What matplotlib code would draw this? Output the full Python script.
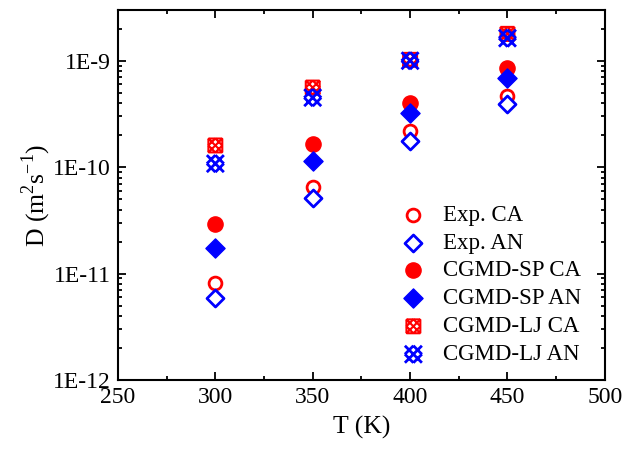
import math
import matplotlib
matplotlib.use("Agg")
import matplotlib.pyplot as plt
from matplotlib.path import Path
from matplotlib.ticker import LogLocator, NullFormatter, FixedLocator, FuncFormatter

plt.rcParams['font.family'] = ['Liberation Serif', 'DejaVu Serif']
plt.rcParams['mathtext.fontset'] = 'custom'
plt.rcParams['mathtext.rm'] = 'Liberation Serif'

T = [300, 350, 400, 450]
exp_ca = [8.1e-12, 6.45e-11, 2.2e-10, 4.7e-10]
exp_an = [5.9e-12, 5.1e-11, 1.78e-10, 3.95e-10]
sp_ca = [2.9e-11, 1.66e-10, 4.0e-10, 8.6e-10]
sp_an = [1.73e-11, 1.15e-10, 3.25e-10, 6.9e-10]
lj_ca = [1.6e-10, 5.6e-10, 1.02e-9, 1.79e-9]
lj_an = [1.08e-10, 4.5e-10, 1.0e-9, 1.63e-9]
y_major = [1e-12, 1e-11, 1e-10, 1e-9]

red = '#ff0000'
blue = '#0000ff'


def segs_path(segs):
    verts, codes = [], []
    for (a, b) in segs:
        verts += [a, b]
        codes += [Path.MOVETO, Path.LINETO]
    return Path(verts, codes)


# square with inner cross-hatch (CA)
sq = [((-1, -1), (1, -1)), ((1, -1), (1, 1)), ((1, 1), (-1, 1)), ((-1, 1), (-1, -1)),
      ((-1, -1), (1, 1)), ((-1, 1), (1, -1)),
      ((-1, 0), (0, 1)), ((0, 1), (1, 0)), ((1, 0), (0, -1)), ((0, -1), (-1, 0))]
m_ljca = segs_path(sq)
# lattice of crossing diagonals (AN)
lat = []
for c in (-1.0, 0.0, 1.0):
    lat.append(((max(-1, c - 1), c - max(-1, c - 1)), (min(1, c + 1), c - min(1, c + 1))))
    lat.append(((max(-1, c - 1), max(-1, c - 1) - c), (min(1, c + 1), min(1, c + 1) - c)))
m_ljan = segs_path(lat)

fig = plt.figure(figsize=(6.36, 4.53), dpi=100)
ax = fig.add_axes([0.1855, 0.161, 0.7655, 0.817])

ax.scatter(T, exp_ca, s=85, marker='o', facecolors='white', edgecolors=red, linewidths=2, label='Exp. CA', zorder=3)
ax.scatter(T, exp_an, s=75, marker='D', facecolors='white', edgecolors=blue, linewidths=2, label='Exp. AN', zorder=3)
ax.scatter(T, sp_ca, s=120, marker='o', facecolors=red, edgecolors=red, linewidths=1, label='CGMD-SP CA', zorder=3)
ax.scatter(T, sp_an, s=95, marker='D', facecolors=blue, edgecolors=blue, linewidths=1, label='CGMD-SP AN', zorder=3)
ax.scatter(T, lj_ca, s=100, marker=m_ljca, facecolors='none', edgecolors=red, linewidths=1.5, label='CGMD-LJ CA', zorder=3)
ax.scatter(T, lj_an, s=150, marker=m_ljan, facecolors='none', edgecolors=blue, linewidths=2.0, label='CGMD-LJ AN', zorder=4)

ax.set_yscale('log')
ax.set_xlim(250, 500)
ax.set_ylim(1e-12, 3e-9)
ax.xaxis.set_major_locator(FixedLocator([250, 300, 350, 400, 450, 500]))
ax.xaxis.set_minor_locator(FixedLocator([275, 325, 375, 425, 475]))
ax.yaxis.set_major_locator(FixedLocator(y_major))
ax.yaxis.set_minor_locator(LogLocator(base=10, subs=range(2, 10), numticks=20))
ax.yaxis.set_minor_formatter(NullFormatter())
ax.yaxis.set_major_formatter(FuncFormatter(lambda v, p: '1E%d' % round(math.log10(v))))

ax.tick_params(which='both', direction='in', top=True, right=True, labelsize=17, width=1.3)
ax.tick_params(which='major', length=6, pad=5)
ax.tick_params(which='minor', length=3)
for sp in ax.spines.values():
    sp.set_linewidth(1.5)

ax.set_xlabel('T (K)', fontsize=18.5, labelpad=6)
ax.set_ylabel('D (m$^2$s$^{-1}$)', fontsize=18.5, labelpad=0)

leg = ax.legend(loc='upper left', bbox_to_anchor=(0.555, 0.505), frameon=False, fontsize=16.5,
                handletextpad=0.7, labelspacing=0.3, borderpad=0, handlelength=1.2)

fig.savefig('out.png', dpi=100)
